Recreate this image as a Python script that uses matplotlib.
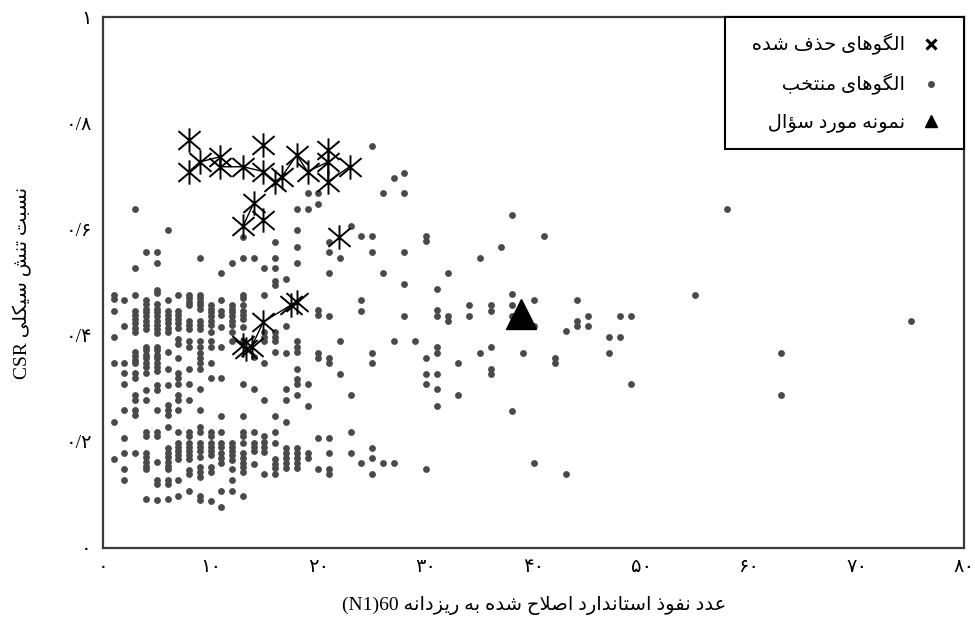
import matplotlib
matplotlib.use("Agg")
import matplotlib.pyplot as plt
from matplotlib.path import Path
from matplotlib.lines import Line2D

plt.rcParams['font.family'] = ['Liberation Serif', 'DejaVu Sans']

# ---------------- data ----------------
# selected patterns: x (integer N1(60)) and the CSR values found in that column
sel_cols = [1, 2, 3, 4, 5, 6, 7, 8, 9, 10, 11, 12, 13, 14, 15, 16, 17, 18, 19, 20,
            21, 22, 23, 24, 25, 26, 27, 28, 29, 30, 31, 32, 33, 34, 35, 36, 37, 38,
            39, 40, 41, 42, 43, 44, 45, 47, 48, 49, 55, 58, 63, 75]
sel_vals = [
    [0.476, 0.468, 0.446, 0.398, 0.349, 0.238, 0.167],
    [0.467, 0.419, 0.349, 0.329, 0.308, 0.260, 0.208, 0.178, 0.148, 0.128],
    [0.638, 0.528, 0.476, 0.446, 0.439, 0.431, 0.423, 0.415, 0.407, 0.370, 0.362, 0.354,
     0.348, 0.329, 0.320, 0.288, 0.279, 0.260, 0.250, 0.178],
    [0.557, 0.467, 0.460, 0.451, 0.444, 0.436, 0.428, 0.420, 0.412, 0.379, 0.372, 0.364,
     0.357, 0.349, 0.341, 0.329, 0.297, 0.279, 0.219, 0.211, 0.178, 0.171, 0.162, 0.154,
     0.148, 0.093],
    [0.557, 0.536, 0.486, 0.480, 0.460, 0.451, 0.444, 0.436, 0.428, 0.420, 0.412, 0.404,
     0.379, 0.372, 0.364, 0.357, 0.349, 0.341, 0.334, 0.307, 0.297, 0.260, 0.219, 0.211,
     0.162, 0.128, 0.120, 0.090],
    [0.598, 0.467, 0.446, 0.439, 0.431, 0.423, 0.415, 0.407, 0.370, 0.338, 0.307, 0.269,
     0.260, 0.250, 0.228, 0.188, 0.179, 0.172, 0.162, 0.154, 0.148, 0.128, 0.120, 0.093],
    [0.476, 0.446, 0.439, 0.431, 0.423, 0.415, 0.393, 0.385, 0.358, 0.329, 0.321, 0.308,
     0.288, 0.279, 0.260, 0.219, 0.198, 0.191, 0.183, 0.175, 0.167, 0.128, 0.098],
    [0.476, 0.470, 0.464, 0.458, 0.428, 0.420, 0.412, 0.389, 0.379, 0.338, 0.308, 0.279,
     0.219, 0.210, 0.198, 0.191, 0.183, 0.175, 0.167, 0.147, 0.139, 0.108],
    [0.547, 0.476, 0.470, 0.464, 0.458, 0.451, 0.428, 0.420, 0.412, 0.389, 0.379, 0.367,
     0.357, 0.348, 0.338, 0.299, 0.260, 0.228, 0.219, 0.198, 0.191, 0.183, 0.172, 0.153,
     0.144, 0.134, 0.098, 0.090],
    [0.458, 0.451, 0.444, 0.436, 0.428, 0.420, 0.407, 0.389, 0.379, 0.348, 0.320, 0.219,
     0.210, 0.198, 0.191, 0.183, 0.175, 0.153, 0.144, 0.088],
    [0.517, 0.467, 0.446, 0.439, 0.417, 0.379, 0.320, 0.249, 0.219, 0.198, 0.191, 0.178,
     0.169, 0.161, 0.108, 0.078],
    [0.536, 0.458, 0.451, 0.444, 0.436, 0.428, 0.420, 0.407, 0.389, 0.198, 0.191, 0.183,
     0.175, 0.166, 0.148, 0.128, 0.108],
    [0.586, 0.547, 0.476, 0.470, 0.458, 0.446, 0.439, 0.431, 0.417, 0.389, 0.308, 0.249,
     0.219, 0.210, 0.198, 0.178, 0.169, 0.161, 0.153, 0.144, 0.098],
    [0.547, 0.360, 0.299, 0.219, 0.198, 0.191, 0.183, 0.159],
    [0.528, 0.476, 0.407, 0.398, 0.389, 0.348, 0.279, 0.210, 0.200, 0.191, 0.181, 0.139],
    [0.577, 0.547, 0.528, 0.502, 0.495, 0.407, 0.398, 0.389, 0.370, 0.249, 0.219, 0.198,
     0.167, 0.159, 0.150, 0.139],
    [0.507, 0.418, 0.368, 0.299, 0.279, 0.238, 0.188, 0.178, 0.169, 0.160, 0.150],
    [0.638, 0.598, 0.567, 0.537, 0.389, 0.379, 0.369, 0.338, 0.318, 0.308, 0.288, 0.188,
     0.178, 0.169, 0.160, 0.150],
    [0.668, 0.638, 0.308, 0.268, 0.178, 0.169],
    [0.668, 0.648, 0.448, 0.439, 0.368, 0.358, 0.208, 0.148],
    [0.577, 0.557, 0.517, 0.437, 0.358, 0.348, 0.208, 0.178, 0.148, 0.139],
    [0.547, 0.389, 0.328],
    [0.607, 0.288, 0.218, 0.178],
    [0.587, 0.467, 0.447, 0.160],
    [0.758, 0.587, 0.557, 0.368, 0.348, 0.188, 0.169, 0.139],
    [0.668, 0.517, 0.160],
    [0.697, 0.389, 0.160],
    [0.707, 0.668, 0.557, 0.497, 0.437],
    [0.389],
    [0.588, 0.578, 0.358, 0.328, 0.308, 0.148],
    [0.487, 0.448, 0.437, 0.379, 0.368, 0.328, 0.299, 0.268],
    [0.517, 0.437, 0.428],
    [0.348, 0.288],
    [0.458, 0.437],
    [0.547, 0.368],
    [0.458, 0.447, 0.378, 0.338, 0.328],
    [0.567],
    [0.627, 0.478, 0.458, 0.437, 0.258],
    [0.427, 0.368],
    [0.467, 0.418, 0.160],
    [0.587],
    [0.358, 0.348],
    [0.409, 0.139],
    [0.467, 0.428, 0.418],
    [0.437, 0.418],
    [0.398, 0.368],
    [0.437, 0.398],
    [0.437, 0.308],
    [0.476],
    [0.638],
    [0.368, 0.288],
    [0.428],
]

# deleted patterns (group 0 = no connecting line)
del_x = [8.0, 8.0, 9.0, 10.9, 10.9, 13.0, 14.9, 14.9, 16.0, 16.6, 18.0, 19.0, 20.9, 20.9,
         20.9, 22.9, 13.0, 14.0, 14.9, 21.9, 13.0, 13.3, 13.8, 14.9, 17.5, 18.0]
del_y = [0.768, 0.709, 0.727, 0.737, 0.718, 0.718, 0.759, 0.709, 0.690, 0.699, 0.740, 0.709,
         0.750, 0.727, 0.690, 0.718, 0.606, 0.649, 0.618, 0.586, 0.382, 0.375, 0.379, 0.426,
         0.458, 0.464]
del_group = [0, 1, 1, 1, 1, 1, 0, 1, 1, 1, 1, 1, 0, 1, 1, 1, 2, 2, 0, 0, 3, 3, 3, 3, 3, 3]

# sample in question
query_x = [38.8]
query_y = [0.44]

x_ticks = [0, 10, 20, 30, 40, 50, 60, 70, 80]
x_tick_labels = ['۰', '۱۰', '۲۰', '۳۰', '۴۰', '۵۰', '۶۰', '۷۰', '۸۰']
y_ticks = [0, 0.2, 0.4, 0.6, 0.8, 1.0]
y_tick_labels = ['۰', '۰/۲', '۰/۴', '۰/۶', '۰/۸', '۱']

label_deleted = 'الگوهای حذف شده'
label_selected = 'الگوهای منتخب'
label_query = 'نمونه مورد سؤال'
xlabel_fa = 'عدد نفوذ استاندارد اصلاح شده به ریزدانه'
ylabel_fa = 'نسبت تنش سیکلی'

# ---------------- minimal Arabic/Persian shaping ----------------
FORMS = {
    'ا': (0xFE8D, 0xFE8E, None, None),
    'ؤ': (0xFE85, 0xFE86, None, None),
    'د': (0xFEA9, 0xFEAA, None, None),
    'ذ': (0xFEAB, 0xFEAC, None, None),
    'ر': (0xFEAD, 0xFEAE, None, None),
    'ز': (0xFEAF, 0xFEB0, None, None),
    'و': (0xFEED, 0xFEEE, None, None),
    'ب': (0xFE8F, 0xFE90, 0xFE91, 0xFE92),
    'ت': (0xFE95, 0xFE96, 0xFE97, 0xFE98),
    'ح': (0xFEA1, 0xFEA2, 0xFEA3, 0xFEA4),
    'خ': (0xFEA5, 0xFEA6, 0xFEA7, 0xFEA8),
    'س': (0xFEB1, 0xFEB2, 0xFEB3, 0xFEB4),
    'ش': (0xFEB5, 0xFEB6, 0xFEB7, 0xFEB8),
    'ص': (0xFEB9, 0xFEBA, 0xFEBB, 0xFEBC),
    'ع': (0xFEC9, 0xFECA, 0xFECB, 0xFECC),
    'ف': (0xFED1, 0xFED2, 0xFED3, 0xFED4),
    'ل': (0xFEDD, 0xFEDE, 0xFEDF, 0xFEE0),
    'م': (0xFEE1, 0xFEE2, 0xFEE3, 0xFEE4),
    'ن': (0xFEE5, 0xFEE6, 0xFEE7, 0xFEE8),
    'ه': (0xFEE9, 0xFEEA, 0xFEEB, 0xFEEC),
    'ی': (0xFBFC, 0xFBFD, 0xFBFE, 0xFBFF),
    'ک': (0xFB8E, 0xFB8F, 0xFB90, 0xFB91),
    'گ': (0xFB92, 0xFB93, 0xFB94, 0xFB95),
}


def shape(text):
    def dual(c):
        return c in FORMS and FORMS[c][2] is not None
    out = []
    n = len(text)
    i = 0
    while i < n:
        c = text[i]
        if c not in FORMS:
            out.append(c)
            i += 1
            continue
        prev = text[i - 1] if i > 0 else None
        pj = prev is not None and dual(prev)
        if c == 'ل' and i + 1 < n and text[i + 1] == 'ا':
            out.append(chr(0xFEFC if pj else 0xFEFB))
            i += 2
            continue
        nxt = text[i + 1] if i + 1 < n else None
        nj = dual(c) and nxt is not None and nxt in FORMS
        iso, fin, ini, med = FORMS[c]
        if pj and nj:
            g = med
        elif pj:
            g = fin
        elif nj:
            g = ini
        else:
            g = iso
        out.append(chr(g))
        i += 1
    return ''.join(reversed(out))


# star marker: X with vertical bar
star = Path([(-1, -0.85), (1, 0.85), (-1, 0.85), (1, -0.85), (0, -1.1), (0, 1.1)],
            [Path.MOVETO, Path.LINETO, Path.MOVETO, Path.LINETO, Path.MOVETO, Path.LINETO])

# ---------------- figure ----------------
fig = plt.figure(figsize=(9.75, 6.23), dpi=100)
ax = fig.add_axes([0.1056, 0.1204, 0.8835, 0.8523])

dot_color = '#4a4a4a'
sx, sy = [], []
for xc, vals in zip(sel_cols, sel_vals):
    for v in vals:
        sx.append(xc)
        sy.append(v)
ax.plot(sx, sy, linestyle='none', marker='o', ms=3.9, color=dot_color, mec=dot_color,
        zorder=2)

# connecting lines for the deleted patterns
for g in sorted(set(del_group)):
    if g == 0:
        continue
    gx = [x for x, k in zip(del_x, del_group) if k == g]
    gy = [y for y, k in zip(del_y, del_group) if k == g]
    ax.plot(gx, gy, color='black', lw=1.0, zorder=3)
ax.plot(del_x, del_y, linestyle='none', marker=star, ms=17.5, mew=1.4, color='black',
        mfc='none', zorder=4)

ax.plot(query_x, query_y, linestyle='none', marker='^', ms=21, color='black', zorder=5)

ax.set_xlim(0, 80)
ax.set_ylim(0, 1)
ax.set_xticks(x_ticks)
ax.set_xticklabels(x_tick_labels, fontsize=14)
ax.set_yticks(y_ticks)
ax.set_yticklabels(y_tick_labels, fontsize=14)
ax.tick_params(length=0, pad=8)
for s in ax.spines.values():
    s.set_color('#3a3a3a')
    s.set_linewidth(1.6)

ax.set_xlabel('(N1)60 ' + shape(xlabel_fa), fontsize=14, labelpad=14)
ax.set_ylabel('CSR ' + shape(ylabel_fa), fontsize=14, labelpad=24)

handles = [
    Line2D([], [], linestyle='none', marker='x', ms=7, mew=2.2, color='black'),
    Line2D([], [], linestyle='none', marker='o', ms=4, color=dot_color),
    Line2D([], [], linestyle='none', marker='^', ms=9, color='black'),
]
labels = ['  ' + shape(label_deleted), '  ' + shape(label_selected),
          '  ' + shape(label_query)]
leg = ax.legend(handles, labels,
                loc='upper right', markerfirst=False, fontsize=14, frameon=True,
                fancybox=False, edgecolor='black', framealpha=1, borderaxespad=0,
                labelspacing=0.95, borderpad=0.85, handlelength=1.7, handletextpad=0.5)
leg.get_frame().set_linewidth(1.5)

fig.savefig('out.png', dpi=100)
